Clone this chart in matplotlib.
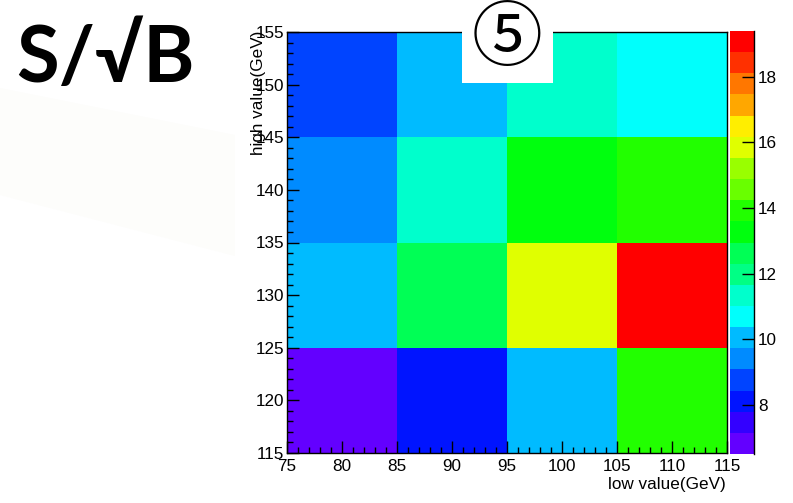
import numpy as np
import matplotlib
matplotlib.use("Agg")
import matplotlib.pyplot as plt
from matplotlib.colors import ListedColormap, BoundaryNorm
from matplotlib.patches import Polygon, Rectangle
from matplotlib.ticker import MultipleLocator

# Bin edges of the 2D scan (GeV)
low_edges = [75, 85, 95, 105, 115]
high_edges = [115, 125, 135, 145, 155]

# S/sqrt(B) per cell; rows follow high_edges (bottom to top), columns follow low_edges
significance = [
    [6.5, 8.1, 10.0, 13.9],    # high 115-125
    [10.1, 12.6, 15.9, 19.4],  # high 125-135
    [9.4, 11.3, 13.3, 13.9],   # high 135-145
    [8.8, 10.0, 11.3, 10.7],   # high 145-155
]
cbar_ticks = [8, 10, 12, 14, 16, 18]

# 20-level rainbow palette (violet -> red)
palette = ["#6300FF", "#3300FF", "#0014FF", "#0044FF", "#008BFF",
           "#00BBFF", "#00FFFC", "#00FFCC", "#00FF85", "#00FF55",
           "#00FF0E", "#22FF00", "#69FF00", "#99FF00", "#E0FF00",
           "#FFEE00", "#FFA700", "#FF7700", "#FF3000", "#FF0000"]

Z = np.array(significance)
cmap = ListedColormap(palette)
cmap.set_under(palette[0])
cmap.set_over(palette[-1])
levels = np.linspace(Z.min(), Z.max(), len(palette) + 1)
norm = BoundaryNorm(levels, len(palette))

W, H = 793, 503
fig = plt.figure(figsize=(W / 100, H / 100), dpi=100)
fig.patch.set_facecolor("white")

def fx(px):
    return px / W

def fy(py):
    return 1 - py / H

# faint background shape on the left
fig.patches.append(Polygon([(fx(0), fy(88)), (fx(235), fy(135)), (fx(235), fy(256)),
                            (fx(0), fy(195))], closed=True, transform=fig.transFigure,
                           facecolor="#fdfdfb", edgecolor="none", zorder=0))

FAMILY = ["Liberation Sans", "DejaVu Sans"]
FSIZE = 12.3

ax = fig.add_axes([fx(287), fy(453), fx(727) - fx(287), fy(32) - fy(453)])
mesh = ax.pcolormesh(low_edges, high_edges, Z, cmap=cmap, norm=norm, shading="flat")
ax.set_xlim(low_edges[0], low_edges[-1])
ax.set_ylim(high_edges[0], high_edges[-1])
ax.xaxis.set_major_locator(MultipleLocator(5))
ax.xaxis.set_minor_locator(MultipleLocator(1))
ax.yaxis.set_major_locator(MultipleLocator(5))
ax.yaxis.set_minor_locator(MultipleLocator(1))
ax.tick_params(which="both", direction="in", top=False, right=False, width=1.0, color="black")
ax.tick_params(which="major", length=8.5)
ax.tick_params(which="minor", length=4.5)
ax.tick_params(axis="x", which="major", pad=4)
ax.tick_params(axis="y", which="major", pad=2)
for lab in ax.get_xticklabels() + ax.get_yticklabels():
    lab.set_fontfamily(FAMILY)
    lab.set_fontsize(FSIZE)
for sp in ax.spines.values():
    sp.set_linewidth(1.0)

fig.text(fx(726), fy(484), "low value(GeV)", ha="right", va="center",
         fontfamily=FAMILY, fontsize=FSIZE)
fig.text(fx(258), fy(31), "high value(GeV)", ha="center", va="top", rotation=90,
         fontfamily=FAMILY, fontsize=FSIZE)

# colour scale
cax = fig.add_axes([fx(730), fy(454), fx(754) - fx(730), fy(31) - fy(454)])
cb = fig.colorbar(mesh, cax=cax, ticks=cbar_ticks, spacing="uniform")
cb.outline.set_visible(False)
cax.spines["right"].set_visible(True)
cax.spines["right"].set_linewidth(1.0)
cax.tick_params(axis="y", which="major", direction="in", length=8.5, width=1.0, pad=3,
                right=True, left=False)
cax.minorticks_off()
for lab in cax.get_yticklabels():
    lab.set_fontfamily(FAMILY)
    lab.set_fontsize(FSIZE)

# white label box with circled number
fig.patches.append(Rectangle((fx(462), fy(83)), fx(553) - fx(462), fy(0) - fy(83),
                             transform=fig.transFigure, facecolor="white",
                             edgecolor="none", zorder=5))
fig.text(fx(507), fy(39), "\u2464", ha="center", va="center", fontsize=51,
         fontfamily=["Noto Sans CJK JP", "DejaVu Sans"], zorder=6)

# big title on the left
fig.text(fx(16), fy(60), "S/\u221aB", ha="left", va="center", fontsize=56,
         fontweight="bold", fontfamily=["Lato", "DejaVu Sans"])

fig.savefig("out.png", dpi=100, facecolor="white")
